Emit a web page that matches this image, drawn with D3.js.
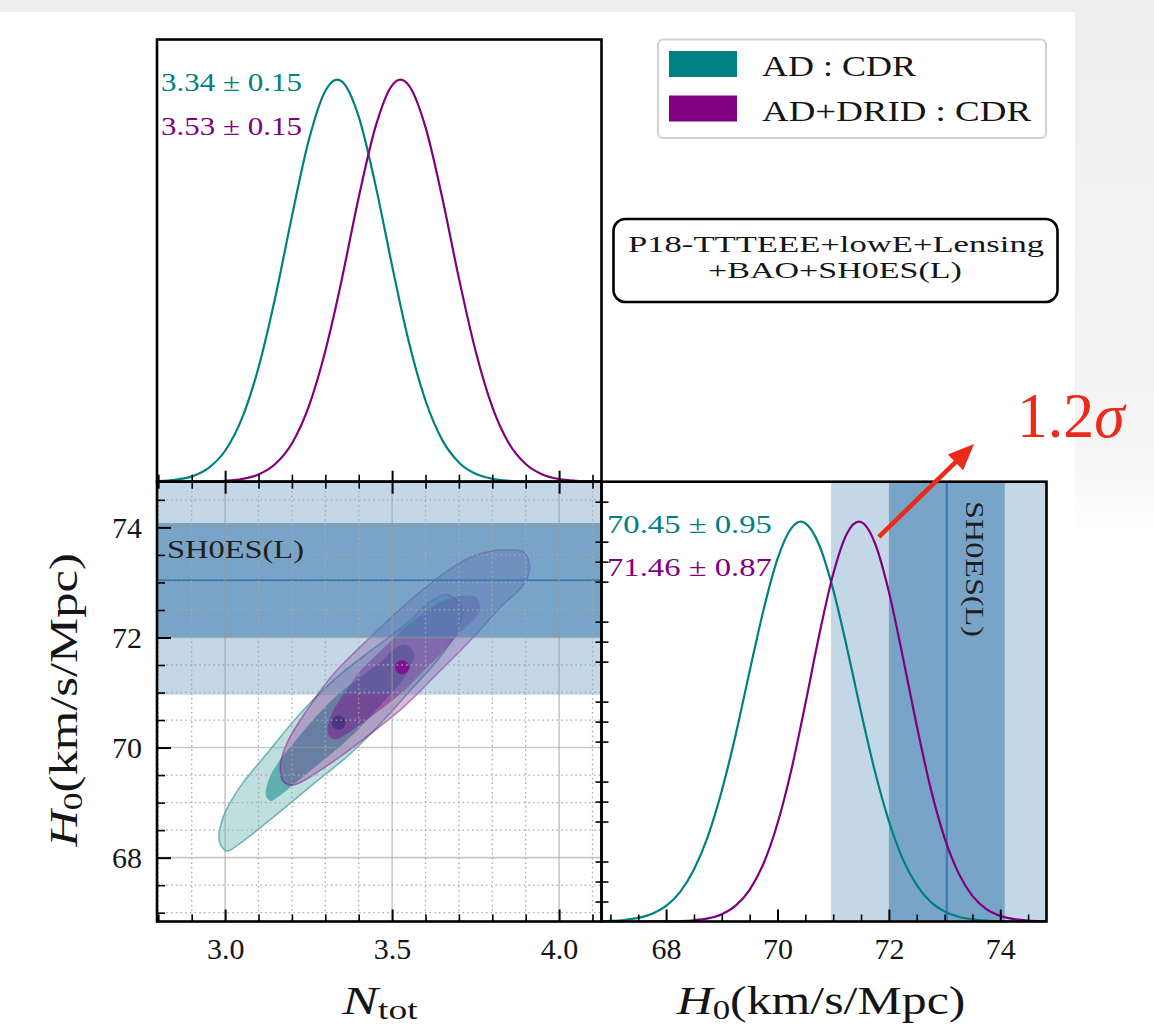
<!DOCTYPE html>
<html>
<head>
<meta charset="utf-8">
<script src="https://cdnjs.cloudflare.com/ajax/libs/d3/7.8.5/d3.min.js"></script>
<style>
  html, body { margin: 0; padding: 0; background: #ffffff; }
  svg { display: block; }
  svg text { font-family: "Liberation Serif", Tinos, "Times New Roman", Times, serif; }
</style>
</head>
<body>
<svg id="chart" width="1154" height="1030"></svg>
<script>
// ---------------- data ----------------
const ntotDomain = [2.796, 4.127];
const h0Domain = [66.84, 74.83];

// marginal posterior of N_tot (normalised to peak = 1)
const ntotGrid   = [2.80, 2.85, 2.90, 2.95, 3.00, 3.05, 3.10, 3.15, 3.20, 3.25, 3.30, 3.335, 3.35, 3.40, 3.45, 3.50, 3.525, 3.55, 3.60, 3.65, 3.70, 3.75, 3.80, 3.85, 3.90, 3.95, 4.00, 4.05, 4.10, 4.15];
const ntotAD     = [0.0015, 0.0047, 0.0133, 0.034, 0.077, 0.157, 0.284, 0.458, 0.660, 0.848, 0.972, 1.0, 0.995, 0.908, 0.739, 0.537, 0.439, 0.348, 0.202, 0.104, 0.048, 0.0196, 0.0072, 0.0024, 0.0007, 0.0002, 0, 0, 0, 0];
const ntotDRID   = [0, 0, 0.0002, 0.0006, 0.0022, 0.0066, 0.018, 0.044, 0.095, 0.186, 0.325, 0.448, 0.506, 0.707, 0.882, 0.986, 1.0, 0.986, 0.882, 0.707, 0.506, 0.325, 0.186, 0.095, 0.044, 0.018, 0.0066, 0.0022, 0.0006, 0.0002];

// marginal posterior of H0 (normalised to peak = 1)
const h0Grid = [66.75, 67.00, 67.25, 67.50, 67.75, 68.00, 68.25, 68.50, 68.75, 69.00, 69.25, 69.50, 69.75, 70.00, 70.25, 70.42, 70.50, 70.75, 71.00, 71.25, 71.46, 71.50, 71.75, 72.00, 72.25, 72.50, 72.75, 73.00, 73.25, 73.50, 73.75, 74.00, 74.25, 74.50, 74.75, 75.00];
const h0AD   = [0.0006, 0.0015, 0.0038, 0.0089, 0.0193, 0.039, 0.0736, 0.130, 0.213, 0.327, 0.468, 0.626, 0.780, 0.907, 0.984, 1.0, 0.996, 0.941, 0.830, 0.683, 0.549, 0.524, 0.375, 0.251, 0.156, 0.091, 0.049, 0.025, 0.0118, 0.0052, 0.0021, 0.0008, 0.0003, 0.0001, 0, 0];
const h0DRID = [0, 0, 0, 0, 0.0001, 0.0004, 0.0011, 0.0031, 0.0078, 0.0184, 0.0397, 0.079, 0.145, 0.245, 0.380, 0.490, 0.544, 0.717, 0.869, 0.971, 1.0, 0.999, 0.946, 0.825, 0.662, 0.490, 0.333, 0.209, 0.121, 0.064, 0.031, 0.0141, 0.0058, 0.0022, 0.0008, 0.0003];

// 2D credible regions in the (N_tot, H0) plane: [N_tot, H0] outline points
const adRegion95 = [[3.665, 72.78], [3.71, 72.52], [3.69, 72.07], [3.635, 71.58], [3.555, 71.04], [3.475, 70.50], [3.375, 69.89], [3.255, 69.29], [3.135, 68.69], [3.045, 68.26], [3.005, 68.12], [2.983, 68.29], [2.995, 68.75], [3.045, 69.29], [3.125, 69.89], [3.225, 70.62], [3.335, 71.28], [3.445, 71.80], [3.555, 72.31], [3.605, 72.61]];
const adRegion68 = [[3.538, 71.87], [3.566, 71.71], [3.554, 71.44], [3.52, 71.14], [3.471, 70.81], [3.422, 70.48], [3.361, 70.11], [3.288, 69.74], [3.215, 69.38], [3.16, 69.11], [3.136, 69.03], [3.122, 69.13], [3.13, 69.41], [3.16, 69.74], [3.209, 70.11], [3.27, 70.55], [3.337, 70.96], [3.404, 71.27], [3.471, 71.58], [3.502, 71.77]];
const dridRegion95 = [[3.855, 73.59], [3.895, 73.55], [3.912, 73.28], [3.895, 72.97], [3.825, 72.55], [3.735, 71.95], [3.635, 71.34], [3.535, 70.74], [3.425, 70.20], [3.315, 69.71], [3.205, 69.32], [3.175, 69.38], [3.165, 69.65], [3.185, 70.08], [3.245, 70.68], [3.325, 71.34], [3.425, 71.95], [3.525, 72.52], [3.625, 73.03], [3.725, 73.43], [3.805, 73.58]];
const dridRegion68 = [[3.728, 72.76], [3.753, 72.73], [3.763, 72.57], [3.753, 72.38], [3.71, 72.12], [3.655, 71.76], [3.594, 71.39], [3.533, 71.02], [3.466, 70.69], [3.399, 70.39], [3.332, 70.15], [3.313, 70.19], [3.307, 70.36], [3.32, 70.62], [3.356, 70.98], [3.405, 71.39], [3.466, 71.76], [3.527, 72.11], [3.588, 72.42], [3.649, 72.66], [3.698, 72.75]];

// posterior means
const meanNtot = [3.34, 3.53];
const meanH0   = [70.45, 71.46];
const seriesNames  = ["AD : CDR", "AD+DRID : CDR"];
const ntotLabels   = ["3.34 \u00b1 0.15", "3.53 \u00b1 0.15"];
const h0Labels     = ["70.45 \u00b1 0.95", "71.46 \u00b1 0.87"];

// SH0ES(L) prior on H0
const shoesMean = 73.04;
const shoesSigma = 1.04;

// ticks
const ntotMajor = [3.0, 3.5, 4.0];
const ntotMinor = [2.8, 2.9, 3.1, 3.2, 3.3, 3.4, 3.6, 3.7, 3.8, 3.9, 4.1];
const h0Major = [68, 70, 72, 74];
const h0Minor = [67, 67.5, 68.5, 69, 69.5, 70.5, 71, 71.5, 72.5, 73, 73.5, 74.5];
const densityMinor = [0.05, 0.1, 0.15, 0.25, 0.3, 0.35, 0.45, 0.5, 0.55, 0.65, 0.7, 0.75, 0.85, 0.9, 0.95, 1.05];

// tension annotation (H0 axis, normalised density)
const tensionArrow = [[71.82, 0.962], [73.53, 1.194]];
const tensionText = "1.2";
const tensionAt = [74.30, 1.212];

// ---------------- styling ----------------
const teal = "#008080", purple = "#800080", band = "#4682b4";
const ink = "#151515";
const serif = "'Liberation Serif', Tinos, 'Times New Roman', Times, serif";

const svg = d3.select("#chart");
const defs = svg.append("defs");

// page backdrop
const fade = defs.append("linearGradient").attr("id", "fade").attr("x1", 0).attr("y1", 0).attr("x2", 0).attr("y2", 1);
fade.append("stop").attr("offset", 0).attr("stop-color", "#eeeeee");
fade.append("stop").attr("offset", 0.82).attr("stop-color", "#f5f5f5");
fade.append("stop").attr("offset", 1).attr("stop-color", "#ffffff");
svg.append("rect").attr("width", 1154).attr("height", 1030).attr("fill", "#ffffff");
svg.append("rect").attr("x", 0).attr("y", 0).attr("width", 1154).attr("height", 12).attr("fill", "#eeeeee");
svg.append("rect").attr("x", 1075).attr("y", 0).attr("width", 79).attr("height", 540).attr("fill", "url(#fade)");

// panel geometry
const L = 157, M = 601.5, R = 1046.5, T = 39.5, MID = 481.7, B = 921.5;

const xN = d3.scaleLinear().domain(ntotDomain).range([L, M]);
const yH = d3.scaleLinear().domain(h0Domain).range([B, MID]);
const xH = d3.scaleLinear().domain(h0Domain).range([M, R]);
const yTop = d3.scaleLinear().domain([0, 1.1]).range([MID, T]);
const yRight = d3.scaleLinear().domain([0, 1.1]).range([B, MID]);

function clip(id, x, y, w, h) {
  defs.append("clipPath").attr("id", id).append("rect").attr("x", x).attr("y", y).attr("width", w).attr("height", h);
}
clip("clipTop", L, T, M - L, MID - T);
clip("clip2d", L, MID, M - L, B - MID);
clip("clipRight", M, MID, R - M, B - MID);

// text helper: parts = [{t, italic, sub}], optional horizontal fit to a width
function addText(parent, o) {
  const g = parent.append("g").attr("transform", `translate(${o.x},${o.y})` + (o.rotate ? ` rotate(${o.rotate})` : ""));
  const t = g.append("text").attr("text-anchor", o.anchor || "start").attr("font-size", o.size)
    .attr("font-family", serif).attr("fill", o.fill || ink);
  const parts = typeof o.parts === "string" ? [{ t: o.parts }] : o.parts;
  let shifted = 0;
  parts.forEach(p => {
    const s = t.append("tspan").text(p.t);
    if (p.italic) s.attr("font-style", "italic");
    const want = p.sub ? o.size * 0.13 : 0;
    if (want !== shifted) { s.attr("dy", want - shifted); shifted = want; }
    if (p.sub) s.attr("font-size", o.size * 0.7);
  });
  if (o.width) {
    const w = t.node().getBBox().width;
    if (w > 0) t.attr("transform", `scale(${o.width / w},1)`);
  }
  return g;
}

// ---------------- top panel: N_tot marginal ----------------
const topG = svg.append("g").attr("clip-path", "url(#clipTop)");
const lineTop = d3.line().x(d => xN(d[0])).y(d => yTop(d[1])).curve(d3.curveMonotoneX);
topG.append("path").attr("d", lineTop(d3.zip(ntotGrid, ntotAD))).attr("fill", "none").attr("stroke", teal).attr("stroke-width", 2.2);
topG.append("path").attr("d", lineTop(d3.zip(ntotGrid, ntotDRID))).attr("fill", "none").attr("stroke", purple).attr("stroke-width", 2.2);

// ---------------- 2D panel ----------------
const g2 = svg.append("g").attr("clip-path", "url(#clip2d)");
const region = d3.line().x(d => xN(d[0])).y(d => yH(d[1])).curve(d3.curveCatmullRomClosed.alpha(0.5));

g2.append("path").attr("d", region(adRegion95)).attr("fill", teal).attr("fill-opacity", 0.25)
  .attr("stroke", teal).attr("stroke-opacity", 0.5).attr("stroke-width", 1.6);
g2.append("path").attr("d", region(adRegion68)).attr("fill", teal).attr("fill-opacity", 0.5);
g2.append("circle").attr("cx", xN(meanNtot[0])).attr("cy", yH(meanH0[0])).attr("r", 7).attr("fill", teal);

g2.append("path").attr("d", region(dridRegion95)).attr("fill", purple).attr("fill-opacity", 0.28)
  .attr("stroke", purple).attr("stroke-opacity", 0.45).attr("stroke-width", 1.6);
g2.append("path").attr("d", region(dridRegion68)).attr("fill", purple).attr("fill-opacity", 0.42);

// SH0ES(L) bands
g2.append("rect").attr("x", L).attr("width", M - L)
  .attr("y", yH(shoesMean + 2 * shoesSigma)).attr("height", yH(shoesMean - 2 * shoesSigma) - yH(shoesMean + 2 * shoesSigma))
  .attr("fill", band).attr("fill-opacity", 0.32);
g2.append("rect").attr("x", L).attr("width", M - L)
  .attr("y", yH(shoesMean + shoesSigma)).attr("height", yH(shoesMean - shoesSigma) - yH(shoesMean + shoesSigma))
  .attr("fill", band).attr("fill-opacity", 0.6);
g2.append("line").attr("x1", L).attr("x2", M).attr("y1", yH(shoesMean)).attr("y2", yH(shoesMean))
  .attr("stroke", "#3f78b2").attr("stroke-width", 2.2);

g2.append("circle").attr("cx", xN(meanNtot[1])).attr("cy", yH(meanH0[1])).attr("r", 7).attr("fill", "#850a8f").attr("fill-opacity", 0.9);

// grid
ntotMinor.forEach(v => g2.append("line").attr("x1", xN(v)).attr("x2", xN(v)).attr("y1", MID).attr("y2", B)
  .attr("stroke", "#a8a8a8").attr("stroke-width", 1.3).attr("stroke-dasharray", "1.5,3.2"));
h0Minor.forEach(v => g2.append("line").attr("y1", yH(v)).attr("y2", yH(v)).attr("x1", L).attr("x2", M)
  .attr("stroke", "#a8a8a8").attr("stroke-width", 1.3).attr("stroke-dasharray", "1.5,3.2"));
ntotMajor.forEach(v => g2.append("line").attr("x1", xN(v)).attr("x2", xN(v)).attr("y1", MID).attr("y2", B)
  .attr("stroke", "#9a9a9a").attr("stroke-opacity", 0.55).attr("stroke-width", 1.6));
h0Major.forEach(v => g2.append("line").attr("y1", yH(v)).attr("y2", yH(v)).attr("x1", L).attr("x2", M)
  .attr("stroke", "#9a9a9a").attr("stroke-opacity", 0.55).attr("stroke-width", 1.6));

addText(svg, { x: 167, y: 558, size: 26, parts: "SH0ES(L)", width: 137, fill: "#1e1e1e" });

// ---------------- right panel: H0 marginal ----------------
const gR = svg.append("g").attr("clip-path", "url(#clipRight)");
gR.append("rect").attr("y", MID).attr("height", B - MID)
  .attr("x", xH(shoesMean - 2 * shoesSigma)).attr("width", xH(shoesMean + 2 * shoesSigma) - xH(shoesMean - 2 * shoesSigma))
  .attr("fill", band).attr("fill-opacity", 0.32);
gR.append("rect").attr("y", MID).attr("height", B - MID)
  .attr("x", xH(shoesMean - shoesSigma)).attr("width", xH(shoesMean + shoesSigma) - xH(shoesMean - shoesSigma))
  .attr("fill", band).attr("fill-opacity", 0.6);
gR.append("line").attr("y1", MID).attr("y2", B).attr("x1", xH(shoesMean)).attr("x2", xH(shoesMean))
  .attr("stroke", "#3f78b2").attr("stroke-width", 2.2);
const lineR = d3.line().x(d => xH(d[0])).y(d => yRight(d[1])).curve(d3.curveMonotoneX);
gR.append("path").attr("d", lineR(d3.zip(h0Grid, h0AD))).attr("fill", "none").attr("stroke", teal).attr("stroke-width", 2.2);
gR.append("path").attr("d", lineR(d3.zip(h0Grid, h0DRID))).attr("fill", "none").attr("stroke", purple).attr("stroke-width", 2.2);

addText(svg, { x: 966, y: 501, rotate: 90, size: 26, parts: "SH0ES(L)", width: 136, fill: "#1e1e1e" });

// ---------------- axes ----------------
function styleAxis(g, width) {
  g.select(".domain").remove();
  g.attr("font-family", serif).attr("font-size", null);
  g.selectAll(".tick line").attr("stroke", "#000").attr("stroke-width", width);
  g.selectAll(".tick text").attr("fill", ink).attr("font-size", 30).attr("font-family", serif);
}
function axis(gen, tx, ty, width) {
  const g = svg.append("g").attr("transform", `translate(${tx},${ty})`).call(gen);
  styleAxis(g, width);
  return g;
}
// N_tot: 2D bottom (labelled), 2D top, top-panel bottom
axis(d3.axisBottom(xN).tickValues(ntotMajor).tickSize(-12).tickPadding(16).tickFormat(d3.format(".1f")), 0, B, 2);
axis(d3.axisBottom(xN).tickValues(ntotMinor).tickSize(-7).tickFormat(""), 0, B, 1.6);
axis(d3.axisTop(xN).tickValues(ntotMajor).tickSize(-12).tickFormat(""), 0, MID, 2);
axis(d3.axisTop(xN).tickValues(ntotMinor).tickSize(-7).tickFormat(""), 0, MID, 1.6);
axis(d3.axisBottom(xN).tickValues(ntotMajor).tickSize(-11).tickFormat(""), 0, MID, 2);
axis(d3.axisBottom(xN).tickValues(ntotMinor).tickSize(-7).tickFormat(""), 0, MID, 1.6);
// H0 on the 2D left edge
const yAx = axis(d3.axisLeft(yH).tickValues(h0Major).tickSize(-14).tickPadding(15).tickFormat(d3.format("d")), L, 0, 2);
yAx.selectAll(".tick text").attr("dy", "0.33em");
axis(d3.axisLeft(yH).tickValues(h0Minor).tickSize(-8).tickFormat(""), L, 0, 1.6);
// H0 on the right panel bottom
axis(d3.axisBottom(xH).tickValues(h0Major).tickSize(-12).tickPadding(16).tickFormat(d3.format("d")), 0, B, 2);
axis(d3.axisBottom(xH).tickValues(h0Minor).tickSize(-7).tickFormat(""), 0, B, 1.6);
// density ticks on the right panel's left edge
axis(d3.axisLeft(yRight).tickValues(densityMinor).tickSize(-7).tickFormat(""), M, 0, 1.6);
axis(d3.axisLeft(yRight).tickValues(densityMinor).tickSize(6).tickFormat(""), M, 0, 1.6);

// panel frames
[[L, T, M - L, MID - T], [L, MID, M - L, B - MID], [M, MID, R - M, B - MID]].forEach(([x, y, w, h]) =>
  svg.append("rect").attr("x", x).attr("y", y).attr("width", w).attr("height", h)
    .attr("fill", "none").attr("stroke", "#000").attr("stroke-width", 2.6));

// axis titles
addText(svg, { x: 380, y: 1014, size: 40, anchor: "middle", width: 77,
  parts: [{ t: "N", italic: true }, { t: "tot", sub: true }] });
addText(svg, { x: 821, y: 1014, size: 40, anchor: "middle", width: 290,
  parts: [{ t: "H", italic: true }, { t: "0", sub: true }, { t: "(km/s/Mpc)" }] });
addText(svg, { x: 77, y: 700, rotate: -90, size: 40, anchor: "middle", width: 295,
  parts: [{ t: "H", italic: true }, { t: "0", sub: true }, { t: "(km/s/Mpc)" }] });

// marginal summaries
addText(svg, { x: 161, y: 91, size: 25, parts: ntotLabels[0], fill: teal, width: 141 });
addText(svg, { x: 161, y: 135, size: 25, parts: ntotLabels[1], fill: purple, width: 141 });
addText(svg, { x: 607, y: 533, size: 26, parts: h0Labels[0], fill: teal, width: 165 });
addText(svg, { x: 607, y: 576, size: 26, parts: h0Labels[1], fill: purple, width: 165 });

// legend
svg.append("rect").attr("x", 658).attr("y", 39.5).attr("width", 388).attr("height", 98.5).attr("rx", 5)
  .attr("fill", "#ffffff").attr("stroke", "#d3d3d3").attr("stroke-width", 2.2);
[teal, purple].forEach((c, i) => {
  svg.append("rect").attr("x", 669).attr("y", 51 + i * 44.5).attr("width", 68).attr("height", 26).attr("fill", c);
});
addText(svg, { x: 762, y: 76, size: 29, parts: seriesNames[0], width: 155 });
addText(svg, { x: 762, y: 120.5, size: 29, parts: seriesNames[1], width: 270 });

// data-set box
svg.append("rect").attr("x", 613.5).attr("y", 219).attr("width", 444).attr("height", 83).attr("rx", 12)
  .attr("fill", "#ffffff").attr("stroke", "#000").attr("stroke-width", 2.6);
addText(svg, { x: 836, y: 252, size: 23, anchor: "middle", parts: "P18-TTTEEE+lowE+Lensing", width: 417 });
addText(svg, { x: 835, y: 278, size: 23, anchor: "middle", parts: "+BAO+SH0ES(L)", width: 254 });

// tension arrow
const red = "#ec2a1a";
const [a0, a1] = tensionArrow.map(d => [xH(d[0]), yRight(d[1])]);
const ang = Math.atan2(a1[1] - a0[1], a1[0] - a0[0]);
const headLen = 26, headHalf = 11;
const base = [a1[0] - headLen * Math.cos(ang), a1[1] - headLen * Math.sin(ang)];
svg.append("line").attr("x1", a0[0]).attr("y1", a0[1]).attr("x2", base[0] + 2 * Math.cos(ang)).attr("y2", base[1] + 2 * Math.sin(ang))
  .attr("stroke", red).attr("stroke-width", 4.6);
svg.append("polygon").attr("fill", red).attr("points", [
  a1,
  [base[0] + headHalf * Math.sin(ang), base[1] - headHalf * Math.cos(ang)],
  [base[0] - headHalf * Math.sin(ang), base[1] + headHalf * Math.cos(ang)]
].map(p => p.join(",")).join(" "));
addText(svg, { x: xH(tensionAt[0]), y: yRight(tensionAt[1]), size: 64, fill: red, width: 110,
  parts: [{ t: tensionText }, { t: "\u03c3", italic: true }] });
</script>
</body>
</html>
